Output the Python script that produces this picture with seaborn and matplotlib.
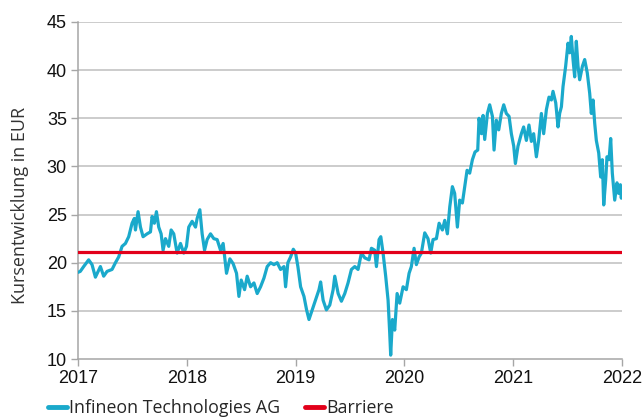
import numpy as np
import pandas as pd
import matplotlib
matplotlib.use("Agg")
import matplotlib.pyplot as plt
import seaborn as sns
from matplotlib.lines import Line2D

# ---- data ----
years = [
    2017.000, 2017.021, 2017.052, 2017.098, 2017.129, 2017.160, 2017.206, 2017.236, 2017.267, 2017.313,
    2017.344, 2017.374, 2017.405, 2017.436, 2017.466, 2017.497, 2017.518, 2017.528, 2017.552, 2017.574,
    2017.598, 2017.635, 2017.666, 2017.681, 2017.702, 2017.721, 2017.742, 2017.764, 2017.782, 2017.804,
    2017.834, 2017.856, 2017.880, 2017.911, 2017.942, 2017.972, 2017.997, 2018.018, 2018.049, 2018.080,
    2018.095, 2018.120, 2018.141, 2018.163, 2018.187, 2018.218, 2018.248, 2018.279, 2018.310, 2018.334,
    2018.365, 2018.396, 2018.426, 2018.457, 2018.479, 2018.500, 2018.531, 2018.555, 2018.586, 2018.617,
    2018.647, 2018.678, 2018.709, 2018.739, 2018.770, 2018.801, 2018.831, 2018.862, 2018.893, 2018.908,
    2018.929, 2018.954, 2018.979, 2019.000, 2019.021, 2019.046, 2019.077, 2019.101, 2019.123, 2019.153,
    2019.184, 2019.215, 2019.230, 2019.253, 2019.283, 2019.314, 2019.345, 2019.360, 2019.391, 2019.421,
    2019.452, 2019.482, 2019.513, 2019.544, 2019.574, 2019.605, 2019.636, 2019.675, 2019.697, 2019.727,
    2019.743, 2019.767, 2019.783, 2019.804, 2019.828, 2019.850, 2019.865, 2019.874, 2019.890, 2019.911,
    2019.933, 2019.957, 2019.988, 2020.018, 2020.043, 2020.064, 2020.089, 2020.110, 2020.135, 2020.156,
    2020.187, 2020.217, 2020.242, 2020.263, 2020.294, 2020.319, 2020.349, 2020.371, 2020.395, 2020.417,
    2020.441, 2020.462, 2020.487, 2020.508, 2020.533, 2020.554, 2020.576, 2020.600, 2020.625, 2020.649,
    2020.674, 2020.686, 2020.708, 2020.723, 2020.738, 2020.763, 2020.784, 2020.809, 2020.824, 2020.845,
    2020.867, 2020.891, 2020.913, 2020.937, 2020.962, 2020.983, 2021.005, 2021.020, 2021.044, 2021.075,
    2021.096, 2021.121, 2021.145, 2021.167, 2021.188, 2021.213, 2021.234, 2021.259, 2021.280, 2021.305,
    2021.329, 2021.351, 2021.366, 2021.391, 2021.412, 2021.427, 2021.443, 2021.458, 2021.482, 2021.504,
    2021.519, 2021.534, 2021.550, 2021.565, 2021.580, 2021.596, 2021.611, 2021.636, 2021.657, 2021.681,
    2021.703, 2021.718, 2021.734, 2021.749, 2021.764, 2021.786, 2021.804, 2021.819, 2021.832, 2021.850,
    2021.862, 2021.881, 2021.896, 2021.911, 2021.933, 2021.954, 2021.969, 2021.985, 2021.994, 2022.000,
]
prices = [
    19.0, 19.1, 19.6, 20.3, 19.8, 18.5, 19.6, 18.6, 19.1, 19.3,
    20.0, 20.6, 21.7, 22.0, 22.7, 24.1, 24.6, 23.4, 25.3, 23.7,
    22.7, 23.0, 23.2, 24.8, 24.1, 25.3, 23.7, 23.0, 21.3, 22.5,
    21.7, 23.4, 23.0, 21.0, 22.0, 21.0, 21.7, 23.7, 24.3, 23.7,
    24.6, 25.5, 23.0, 21.3, 22.4, 23.0, 22.5, 22.4, 21.3, 22.0,
    18.9, 20.4, 19.9, 18.9, 16.5, 18.2, 17.2, 18.6, 17.5, 17.9,
    16.8, 17.5, 18.4, 19.6, 20.0, 19.8, 20.0, 19.3, 19.6, 17.5,
    20.0, 20.6, 21.4, 21.0, 19.6, 17.5, 16.5, 15.1, 14.1, 15.1,
    16.1, 17.2, 18.0, 16.1, 15.1, 15.6, 17.2, 18.6, 16.8, 16.0,
    16.8, 17.9, 19.3, 19.6, 19.3, 21.0, 20.5, 20.3, 21.5, 21.3,
    19.6, 22.4, 22.7, 21.0, 18.6, 16.1, 12.7, 10.4, 14.1, 13.0,
    16.8, 15.8, 17.5, 17.2, 18.9, 19.6, 21.5, 19.8, 20.6, 21.0,
    23.1, 22.5, 21.0, 22.4, 22.5, 24.1, 23.4, 24.4, 23.0, 25.8,
    27.9, 27.2, 23.7, 26.5, 26.2, 27.9, 29.6, 29.3, 30.7, 31.5,
    31.7, 35.0, 33.4, 35.3, 32.8, 35.5, 36.4, 35.2, 31.7, 34.8,
    33.8, 35.5, 36.4, 35.5, 35.2, 33.4, 32.1, 30.3, 32.1, 33.4,
    34.1, 32.7, 34.3, 32.6, 33.4, 31.0, 32.7, 35.5, 33.4, 35.9,
    37.2, 36.9, 37.8, 36.6, 34.1, 35.5, 36.2, 38.3, 40.4, 42.8,
    41.8, 43.5, 41.1, 39.3, 43.0, 40.4, 39.0, 40.4, 41.1, 39.7,
    37.6, 35.5, 36.9, 34.5, 32.7, 31.4, 28.9, 30.7, 26.0, 28.6,
    31.0, 30.7, 32.9, 29.3, 26.5, 28.3, 27.2, 28.1, 26.7, 27.9,
]
barrier = 21.15
year_ticks = [2017, 2018, 2019, 2020, 2021, 2022]
y_ticks = [10, 15, 20, 25, 30, 35, 40, 45]
series_label = "Infineon Technologies AG"
barrier_label = "Barriere"
y_label = "Kursentwicklung in EUR"

CYAN = "#1AA9CB"
RED = "#E2001A"

sns.set_style("white")
plt.rcParams["font.family"] = ["Liberation Sans", "DejaVu Sans"]

df = pd.DataFrame({"Jahr": years, "Kurs": prices})

fig = plt.figure(figsize=(6.43, 4.19), dpi=100)
ax = fig.add_axes([78 / 643, 1 - 359 / 419, (622 - 78) / 643, (359 - 22) / 419])

for y in y_ticks[1:]:
    ax.axhline(y, color="#BFBFBF", lw=1.1, zorder=0)

sns.lineplot(data=df, x="Jahr", y="Kurs", ax=ax, color=CYAN, lw=2.3, zorder=3)
ax.axhline(barrier, color=RED, lw=2.3, zorder=4)

ax.set_xlim(2017, 2022)
ax.set_ylim(10, 45)
ax.set_xticks(year_ticks)
ax.set_xticklabels([str(t) for t in year_ticks])
ax.set_yticks(y_ticks)
ax.set_yticklabels([str(t) for t in y_ticks])
ax.set_xlabel("")
ax.set_ylabel(y_label, fontsize=13, family=["Open Sans", "DejaVu Sans"], color="#333333")
ax.yaxis.set_label_coords(-49 / 544, 0.5 - 15 / 337)

for s in ["top", "right"]:
    ax.spines[s].set_visible(False)
for s in ["left", "bottom"]:
    ax.spines[s].set_color("#A6A6A6")
    ax.spines[s].set_linewidth(1.1)

ax.tick_params(axis="both", which="major", direction="out", length=5, width=1,
               color="#A6A6A6", labelsize=13, labelcolor="#111111", pad=3,
               left=True, bottom=True)

handles = [Line2D([], [], color=CYAN, lw=3.5), Line2D([], [], color=RED, lw=3.5)]
fig.legend(handles, [series_label, barrier_label], loc="center left",
           bbox_to_anchor=(48 / 643, 1 - 408 / 419), ncol=2, frameon=False,
           handlelength=1.07, handletextpad=0.12, columnspacing=1.4,
           borderpad=0, borderaxespad=0,
           prop={"family": ["Open Sans", "DejaVu Sans"], "size": 12.8})

fig.savefig("out.png", dpi=100)
